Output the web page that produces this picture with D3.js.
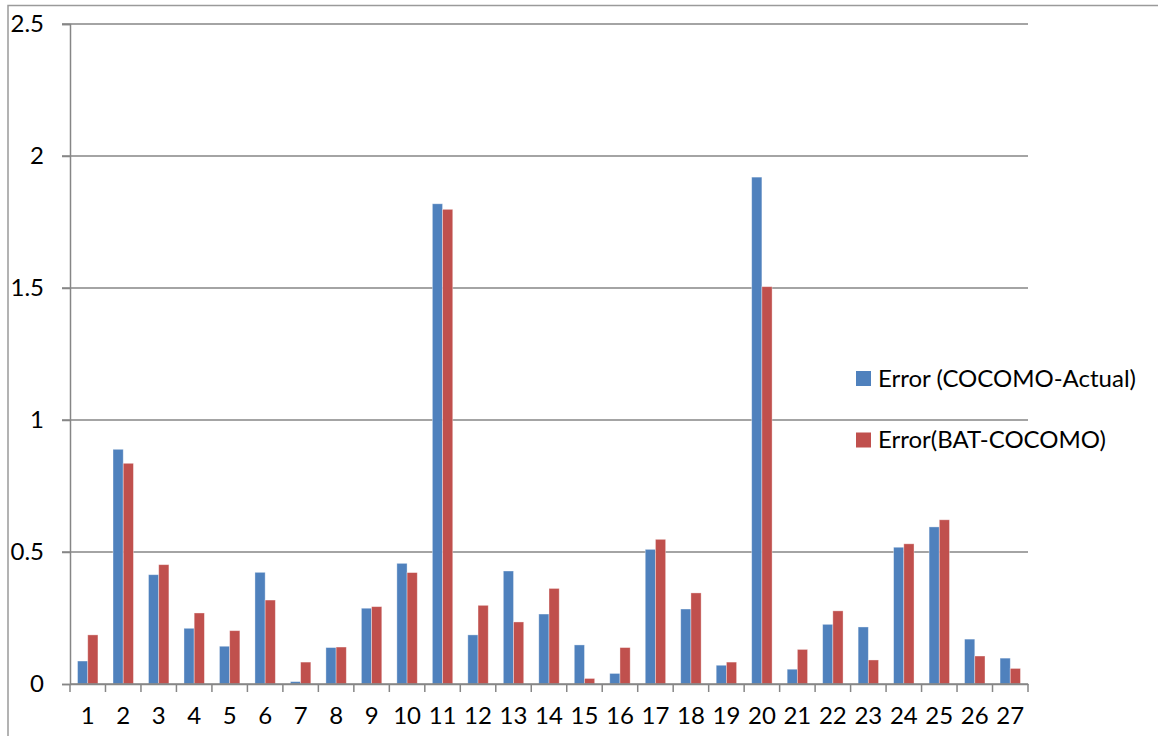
<!DOCTYPE html>
<html><head><meta charset="utf-8">
<script src="https://cdn.jsdelivr.net/npm/d3@7"></script>
<style>body{margin:0;background:#fff}svg{display:block}text{font-family:Lato,"Open Sans",sans-serif;fill:#000}</style>
</head><body>
<svg id="c" width="1158" height="736"></svg>
<script>
const categories = ["1","2","3","4","5","6","7","8","9","10","11","12","13","14","15","16","17","18","19","20","21","22","23","24","25","26","27"];
const seriesNames = ["Error (COCOMO-Actual)", "Error(BAT-COCOMO)"];
const cocomoActual = [0.087,0.889,0.414,0.211,0.143,0.423,0.009,0.138,0.287,0.457,1.819,0.186,0.428,0.265,0.148,0.040,0.510,0.284,0.071,1.920,0.056,0.226,0.216,0.518,0.595,0.170,0.098];
const batCocomo    = [0.186,0.836,0.452,0.269,0.202,0.318,0.083,0.140,0.293,0.422,1.798,0.298,0.235,0.362,0.021,0.138,0.548,0.345,0.083,1.505,0.131,0.277,0.091,0.531,0.622,0.106,0.059];
const yTicks = [0, 0.5, 1, 1.5, 2, 2.5];
const colors = ["#4F81BD", "#C0504D"];

const svg = d3.select("#c");
const L = 70, R = 1028, T = 24, B = 684;
const axisColor = "#868686";
const fs = "24px";

// outer frame
svg.append("rect").attr("x", 8).attr("y", 5.5).attr("width", 1200).attr("height", 800)
  .attr("fill", "none").attr("stroke", "#9a9a9a").attr("stroke-width", 1.5);

const x0 = d3.scaleBand().domain(categories).range([L, R]);
const bw = x0.bandwidth();
const x1 = d3.scaleBand().domain([0, 1]).range([bw * 0.2125, bw * 0.7875]);
const y = d3.scaleLinear().domain([0, 2.5]).range([B, T]);

// gridlines
svg.append("g").selectAll("line").data(yTicks.filter(d => d > 0)).join("line")
  .attr("x1", L - 8).attr("x2", R).attr("y1", d => y(d)).attr("y2", d => y(d))
  .attr("stroke", axisColor).attr("stroke-width", 1.5);

// y axis
const yAxis = d3.axisLeft(y).tickValues(yTicks).tickFormat(d => String(d)).tickSize(8).tickPadding(18);
const gy = svg.append("g").attr("transform", `translate(${L},0)`).call(yAxis);
gy.select(".domain").attr("stroke", axisColor).attr("stroke-width", 1.5);
gy.selectAll(".tick line").attr("stroke", axisColor).attr("stroke-width", 1.5);
gy.selectAll("text").style("font-size", fs).attr("fill", "#000");

// bars
const data = categories.map((c, i) => ({c, v: [cocomoActual[i], batCocomo[i]]}));
const g = svg.append("g");
data.forEach(d => {
  d.v.forEach((v, k) => {
    g.append("rect")
      .attr("x", x0(d.c) + x1(k)).attr("width", x1.bandwidth())
      .attr("y", y(v)).attr("height", B - y(v))
      .attr("fill", colors[k])
      .attr("stroke", "rgba(255,255,255,0.45)").attr("stroke-width", 0.8);
  });
});

// x axis
const xAxis = d3.axisBottom(x0).tickSize(0).tickPadding(23);
const gx = svg.append("g").attr("transform", `translate(0,${B})`).call(xAxis);
gx.select(".domain").attr("stroke", axisColor).attr("stroke-width", 1.5);
gx.selectAll("text").style("font-size", fs).attr("fill", "#000");
// boundary ticks
const bounds = categories.map(c => x0(c)).concat([R]);
svg.append("g").selectAll("line").data(bounds).join("line")
  .attr("x1", d => d).attr("x2", d => d).attr("y1", B).attr("y2", B + 8)
  .attr("stroke", axisColor).attr("stroke-width", 1.5);
svg.append("line").attr("x1", L).attr("x2", R).attr("y1", B).attr("y2", B)
  .attr("stroke", axisColor).attr("stroke-width", 1.5);

// legend
const leg = svg.append("g");
seriesNames.forEach((n, k) => {
  const cy = 378.5 + k * 61.5;
  leg.append("rect").attr("x", 856).attr("y", cy - 7.5).attr("width", 15).attr("height", 15).attr("fill", colors[k]);
  leg.append("text").attr("x", 878).attr("y", cy).attr("dy", "0.35em").style("font-size", fs).text(n);
});
</script>
</body></html>
